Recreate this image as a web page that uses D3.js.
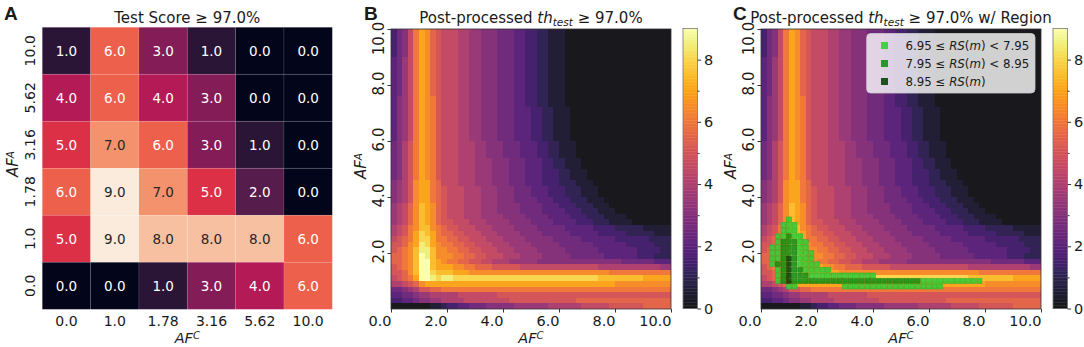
<!DOCTYPE html>
<html>
<head>
<meta charset="utf-8">
<script src="https://cdn.jsdelivr.net/npm/d3@7"></script>
<style>
  body { margin: 0; background: #fff; }
  svg text { font-family: "DejaVu Sans", sans-serif; fill: #1a1a1a; }
</style>
</head>
<body>
<svg id="chart" width="1084" height="347"></svg>
<script>
// ---- panel A: test score grid (rows from AF^A = 10.0 down to 0.0) ----
var afColLabels = ["0.0", "1.0", "1.78", "3.16", "5.62", "10.0"];
var afRowLabels = ["10.0", "5.62", "3.16", "1.78", "1.0", "0.0"];
var scoreRows = [
  [1, 6, 3, 1, 0, 0],
  [4, 6, 4, 3, 0, 0],
  [5, 7, 6, 3, 1, 0],
  [6, 9, 7, 5, 2, 0],
  [5, 9, 8, 8, 8, 6],
  [0, 0, 1, 3, 4, 6]
];

// ---- panels B/C: post-processed surface, 0.2 steps, top row (AF^A 9.8-10) first ----
// one char per cell: 'a' = 0, 'b' = 0.5, 'c' = 1 ... 's' = 9; cells past the end of a row are 0
var surfaceRows = [
  "dfgjmonlk" + "jjjiihhgggfffeeddccbbb",
  "dfgjmonlk" + "jjjiihhgggfffeeddccbbb",
  "dfgjmonlk" + "jjjiihhgggfffeeddccbbb",
  "dfgjmonlk" + "jjjiihhgggfffeeddccbbb",
  "dfgjmonlk" + "jjjiihhgggfffeeddccbbb",
  "efhjmonlk" + "jjjiihhgggfffeeddccbbb",
  "efhjmonlk" + "jjjiihhgggfffeeddccbbb",
  "efhjmonlk" + "jjjiihhgggfffeeddccbbb",
  "efhjmonlk" + "jjjiihhgggfffeeddccbbb",
  "efhjmonlk" + "jjjiihhgggfffeeddccbbb",
  "efhjmonlk" + "jjjiihhgggfffeeddccbbb",
  "efhjmonlk" + "jjjiihhgggfffeeddccbbb",
  "eghjmonmk" + "jjjiihhgggfffeeddccbbb",
  "eghjmonmk" + "jjjiihhgggfffeeddccbbb",
  "eghjmonmk" + "jjjiihhgggfffeeeddccbbb",
  "eghjmonmk" + "jjjiihhgggfffeeeddccbbb",
  "eghjmonmk" + "jjjiihhgggfffeeeddccbbb",
  "eghjmonmk" + "jjjiihhgggfffeeeddccbbb",
  "eghjmonmk" + "jjjiihhgggfffeeeddccbbb",
  "eghjmonmk" + "jjjiihhgggfffeeeddccbbb",
  "fgikmonmk" + "jjjiiihhgggfffeeeddccbbb",
  "fgikmonmk" + "jjjiiihhgggfffeeeddccbbb",
  "fgikmonmk" + "jjjiiihhgggfffeeeddccbbb",
  "fgikmonmk" + "jjjiiihhhgggfffeeeddccbbb",
  "fgikmonmk" + "jjjiiihhhgggfffeeeddccbbb",
  "fgikmonmk" + "jjjiiihhhgggfffeeedddccbbb",
  "fgikmonmk" + "jjjiiihhhgggfffeeedddccbbb",
  "ghiknooml" + "jjjiiihhhgggfffeeedddcccbbb",
  "ghiknooml" + "kjjjiiihhhgggfffeeedddcccbbb",
  "ghiknooml" + "kjjjiiihhhgggfffeeedddcccbbb",
  "ghiknooml" + "kjjjiiihhhgggffffeeedddcccbbb",
  "hijlnponl" + "kjjjiiihhhggggffffeeedddcccbbb",
  "hijlnponl" + "kjjjiiihhhggggffffeeeedddcccbbb",
  "hijlnponl" + "kjjjiiihhhhggggffffeeeedddcccbbbb",
  "hijlnponl" + "kkjjjiiihhhhggggffffeeeedddcccbbbb",
  "ijkmnppnm" + "lkkjjjiiihhhhggggfffffeeeeeddddcccccbbbbb",
  "ijkmoqpom" + "llkkjjjiiihhhhggggfffffeeeeedddddcccccbbb",
  "jklmoqqom" + "mllkkjjjiiihhhhgggggfffffeeeeeeddddddcccc",
  "kklnorqon" + "mmllkkjjjiiihhhhgggggffffffeeeeeedddddccc",
  "klmnprrpn" + "nmmllkkjjjiiihhhhgggggffffffeeeeeeeddddcc",
  "llmnpsrpn" + "nnmmllkkjjjiiihhhhgggggffffffeeeeeedddccc",
  "llmnpsspo" + "nmmllkkjjiiihhhhhgggggggggggggggffffffeee",
  "klmnpsspo" + "oonnmmlllkkkkkjjjjjjjjjjjjjjiiiiiiiiiiihh",
  "kklnpssqp" + "ppooonnnnnnnnnnnnnnnnnnnnnnnnnmmmmmmmmmmm",
  "jklmossrq" + "rrqqqqqqqqqqqqqqqqqqqqqqqqqqppppppppooooo",
  "iijklnooo" + "ooooooooooooooooooooooooooooooonnnnnnnnnnn",
  "ffghikkll" + "mmmmmmmmmmmmmmmmmmmmmmmmmmmmmmmmmmmmmmmmm",
  "eeffghhii" + "iiijjjjjjjkkkkkkkkkkkkkkkkkkkkkkkkkkkkkkk",
  "ddeefgghh" + "iiiijjjjjjjjkkkkkkkkkkkklllllllllllllllll",
  "aaaaaaabb" + "cddeefffggggghhhhhhiiiiiijjjjjkkkkkklllll"
];

// ---- panel C: RS(m) region, rows as [AF^A, AF^C from, AF^C to] ----
var regionLow = [[3.2, 1.0, 1.0], [3.0, 0.8, 1.2], [2.8, 0.8, 1.2], [2.6, 0.6, 1.4], [2.4, 0.6, 1.6],
  [2.2, 0.4, 1.6], [2.0, 0.4, 1.8], [1.8, 0.4, 1.8], [1.6, 0.4, 2.0], [1.4, 0.6, 2.4],
  [1.2, 0.6, 4.0], [1.0, 0.6, 7.8], [0.8, 1.0, 1.2], [0.8, 3.0, 6.4]];
var regionMid = [[2.6, 1.0, 1.0], [2.4, 0.8, 1.2], [2.2, 0.8, 1.2], [2.0, 0.8, 1.2], [1.8, 0.8, 1.2],
  [1.6, 0.6, 1.2], [1.4, 0.8, 1.4], [1.2, 0.8, 1.6], [1.0, 0.8, 5.6]];
var regionHigh = [[1.8, 1.0, 1.0], [1.6, 1.0, 1.0], [1.4, 1.0, 1.0], [1.2, 1.0, 1.0], [1.0, 1.0, 1.0]];
var regionNames = ["6.95 \u2264 ", "7.95 \u2264 ", "8.95 \u2264 "];
var regionUppers = [" < 7.95", " < 8.95", ""];
var regionColors = ["#36cc36", "#159015", "#074507"];

var svg = d3.select("#chart");

// seaborn "rocket" approximated with stops
var rocket = d3.scaleLinear()
  .domain([0, 1, 2, 3, 4, 5, 6, 7].map(function(k) { return k / 7 * 9; }))
  .range(["#03051a", "#35193e", "#701f57", "#ad1759", "#e13342", "#f37651", "#f6b48f", "#faebdd"]);

function afText(sel, sup) {
  sel.append("tspan").style("font-style", "italic").text("AF");
  sel.append("tspan").style("font-style", "italic").style("font-size", "0.7em")
    .attr("dy", "-0.38em").text(sup);
}

function panelLetter(x, t) {
  svg.append("text").attr("x", x).attr("y", 20)
    .style("font-family", "'Liberation Sans', Arial, sans-serif")
    .style("font-weight", "bold").style("font-size", "19px").text(t);
}

// ================= panel A =================
var ax = d3.scaleBand().domain(d3.range(6)).range([42.3, 332.3]);
var ay = d3.scaleBand().domain(d3.range(6)).range([27.3, 309.3]);
var gA = svg.append("g");
scoreRows.forEach(function(row, r) {
  row.forEach(function(v, c) {
    gA.append("rect")
      .attr("x", ax(c)).attr("y", ay(r))
      .attr("width", ax.bandwidth()).attr("height", ay.bandwidth())
      .attr("fill", rocket(v))
      .attr("stroke", "#ffffff").attr("stroke-opacity", 0.12).attr("stroke-width", 0.8);
    gA.append("text")
      .attr("x", ax(c) + ax.bandwidth() / 2).attr("y", ay(r) + ay.bandwidth() / 2)
      .attr("dy", "0.36em").attr("text-anchor", "middle")
      .style("font-size", "13.5px")
      .style("fill", v >= 7 ? "#262626" : "#ffffff")
      .text(v.toFixed(1));
  });
});
afColLabels.forEach(function(l, c) {
  gA.append("text").attr("x", ax(c) + ax.bandwidth() / 2).attr("y", 326)
    .attr("text-anchor", "middle").style("font-size", "14px").text(l);
});
afRowLabels.forEach(function(l, r) {
  var cy = ay(r) + ay.bandwidth() / 2;
  gA.append("text").attr("transform", "translate(35," + cy + ") rotate(-90)")
    .attr("text-anchor", "middle").style("font-size", "14px").text(l);
});
gA.append("text").attr("x", 187.3).attr("y", 23).attr("text-anchor", "middle")
  .style("font-size", "15px").text("Test Score  \u2265  97.0%");
afText(gA.append("text").attr("x", 187.3).attr("y", 343).attr("text-anchor", "middle")
  .style("font-size", "14.5px"), "C");
afText(gA.append("text").attr("transform", "translate(18,164) rotate(-90)")
  .attr("text-anchor", "middle").style("font-size", "15px"), "A");
panelLetter(4, "A");

// ================= panels B and C =================
function drawSurface(left, withRegion) {
  var g = svg.append("g");
  var x = d3.scaleLinear().domain([0, 10]).range([left, left + 280]);
  var y = d3.scaleLinear().domain([0, 10]).range([309, 29]);
  var step = 0.2, nCols = 50;

  surfaceRows.forEach(function(row, r) {
    var a0 = (surfaceRows.length - 1 - r) * step;
    for (var i = 0; i < nCols; i++) {
      var v = i < row.length ? (row.charCodeAt(i) - 97) / 2 : 0;
      g.append("rect")
        .attr("x", x(i * step)).attr("y", y(a0 + step))
        .attr("width", x(step) - x(0)).attr("height", y(0) - y(step))
        .attr("fill", d3.interpolateInferno(v / 9)).attr("fill-opacity", 0.9)
        .attr("shape-rendering", "crispEdges");
    }
  });

  if (withRegion) {
    var cells = new Map();
    [regionLow, regionMid, regionHigh].forEach(function(band, k) {
      band.forEach(function(d) {
        var j = Math.round(d[0] / step);
        for (var i = Math.round(d[1] / step); i <= Math.round(d[2] / step); i++) cells.set(i + "," + j, k);
      });
    });
    var s = x(step) - x(0);
    cells.forEach(function(k, key) {
      var p = key.split(",").map(Number);
      g.append("rect")
        .attr("x", x(p[0] * step) - s / 2 + 0.4).attr("y", y(p[1] * step) - s / 2 + 0.4)
        .attr("width", s - 0.8).attr("height", s - 0.8)
        .attr("fill", regionColors[k]).attr("fill-opacity", 0.9)
        .attr("stroke", d3.color(regionColors[k]).darker(0.35)).attr("stroke-width", 0.6);
    });

    // legend
    var lg = g.append("g");
    lg.append("rect").attr("x", left + 105.7).attr("y", 33.5).attr("width", 168.3).attr("height", 59.5)
      .attr("rx", 4).attr("fill", "#ffffff").attr("fill-opacity", 0.8)
      .attr("stroke", "#cccccc").attr("stroke-width", 0.8);
    regionNames.forEach(function(n, k) {
      var cy = 45.5 + k * 18;
      lg.append("rect").attr("x", left + 120).attr("y", cy - 3.5).attr("width", 7).attr("height", 7)
        .attr("fill", regionColors[k]).attr("fill-opacity", 0.9);
      var t = lg.append("text").attr("x", left + 144.5).attr("y", cy + 4.5).style("font-size", "11.8px");
      t.append("tspan").text(n);
      t.append("tspan").style("font-style", "italic").text("RS");
      t.append("tspan").text("(");
      t.append("tspan").style("font-style", "italic").text("m");
      t.append("tspan").text(")" + regionUppers[k]);
    });
  }

  // frame and axes
  g.append("rect").attr("x", left).attr("y", 29).attr("width", 280).attr("height", 280)
    .attr("fill", "none").attr("stroke", "#333").attr("stroke-width", 0.8);

  var xa = g.append("g").attr("transform", "translate(0,309)")
    .call(d3.axisBottom(x).tickValues([0, 2, 4, 6, 8, 10]).tickFormat(d3.format(".1f"))
      .tickSize(3.5).tickSizeOuter(0).tickPadding(3));
  xa.select(".domain").remove();
  xa.selectAll("line").attr("stroke", "#333");
  xa.selectAll("text").attr("text-anchor", "end").style("font-size", "14.5px")
    .style("font-family", "'DejaVu Sans', sans-serif").attr("fill", "#1a1a1a");

  var ya = g.append("g").attr("transform", "translate(" + left + ",0)")
    .call(d3.axisLeft(y).tickValues([2, 4, 6, 8, 10]).tickFormat(d3.format(".1f"))
      .tickSize(3.5).tickSizeOuter(0));
  ya.select(".domain").remove();
  ya.selectAll("line").attr("stroke", "#333");
  ya.selectAll("text").attr("x", null).attr("dy", null)
    .attr("transform", function(d) { return "translate(-7," + (d === 10 ? 9 : -2) + ") rotate(-90)"; })
    .attr("text-anchor", "middle").style("font-size", "15px")
    .style("font-family", "'DejaVu Sans', sans-serif").attr("fill", "#1a1a1a");

  afText(g.append("text").attr("x", left + 140).attr("y", 343).attr("text-anchor", "middle")
    .style("font-size", "14.5px"), "C");
  afText(g.append("text").attr("transform", "translate(" + (left - 25) + ",166) rotate(-90)")
    .attr("text-anchor", "middle").style("font-size", "15px"), "A");

  var title = g.append("text").attr("x", left + 140).attr("y", 23).attr("text-anchor", "middle")
    .style("font-size", "15px");
  title.append("tspan").text("Post-processed ");
  title.append("tspan").style("font-style", "italic").text("th");
  title.append("tspan").style("font-style", "italic").style("font-size", "0.7em").attr("dy", "0.3em").text("test");
  title.append("tspan").attr("dy", "-0.21em").text(" \u2265 97.0%" + (withRegion ? " w/ Region" : ""));

  // colorbar
  var cbx = left + 292, cbw = 14.6;
  var cy = d3.scaleLinear().domain([0, 9]).range([308.5, 28.5]);
  var cb = g.append("g");
  d3.range(0, 9, 0.05).forEach(function(v) {
    cb.append("rect").attr("x", cbx).attr("y", cy(v + 0.05)).attr("width", cbw)
      .attr("height", cy(v) - cy(v + 0.05) + 0.3)
      .attr("fill", d3.interpolateInferno(v / 9)).attr("fill-opacity", 0.9);
  });
  cb.append("rect").attr("x", cbx).attr("y", cy(9)).attr("width", cbw).attr("height", cy(0) - cy(9))
    .attr("fill", "none").attr("stroke", "#777").attr("stroke-width", 0.8);
  var ca = cb.append("g").attr("transform", "translate(" + (cbx + cbw) + ",0)")
    .call(d3.axisRight(cy).tickValues([0, 2, 4, 6, 8]).tickFormat(d3.format("d"))
      .tickSize(3.5).tickSizeOuter(0).tickPadding(3));
  ca.select(".domain").remove();
  ca.selectAll("line").attr("stroke", "#333");
  ca.selectAll("text").style("font-size", "14.5px")
    .style("font-family", "'DejaVu Sans', sans-serif").attr("fill", "#1a1a1a");
  var cm = cb.append("g").attr("transform", "translate(" + (cbx + cbw) + ",0)")
    .call(d3.axisRight(cy).tickValues([1, 3, 5, 7]).tickFormat("").tickSize(2).tickSizeOuter(0));
  cm.select(".domain").remove();
  cm.selectAll("line").attr("stroke", "#333");
}

drawSurface(391, false);
drawSurface(761, true);
panelLetter(364, "B");
panelLetter(733, "C");
</script>
</body>
</html>
